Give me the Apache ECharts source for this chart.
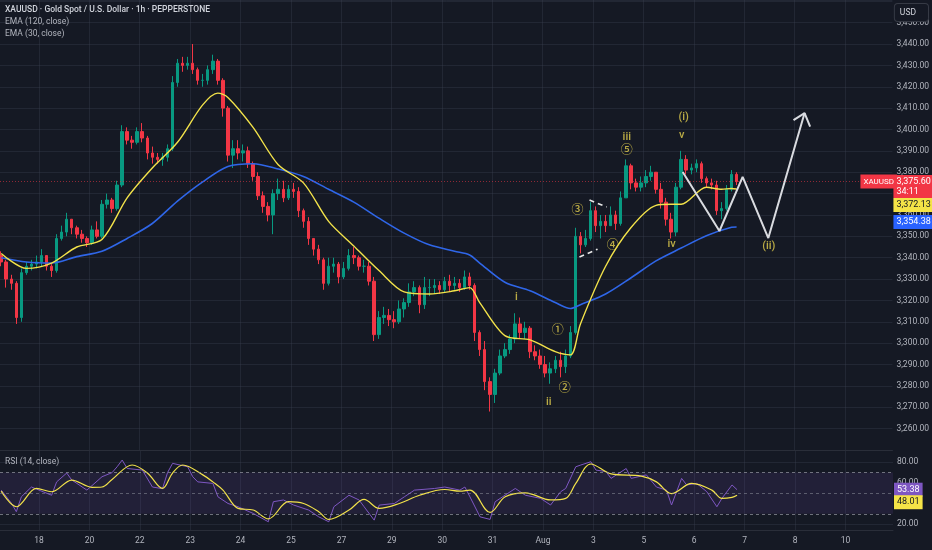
<!DOCTYPE html>
<html><head><meta charset="utf-8">
<script src="https://cdn.jsdelivr.net/npm/echarts@6/dist/echarts.min.js"></script>
<style>html,body{margin:0;padding:0;background:#151924;}#c{width:932px;height:550px;}</style>
</head><body><div id="c"></div>
<script>
// ---- data (x = 2h bar index, 10 bars per trading day) ----
const dayLabels = ['18','20','22','23','24','25','27','29','30','31','Aug','3','5','6','7','8','10'];
const firstOpen = 3341;
const closes = [3338,3330,3328,3312,3333,3336,3337,3338,3341,3336,
3334,3349,3352,3358,3354,3351,3349,3347,3353,3350,
3365,3367,3363,3374,3399,3395,3394,3399,3396,3389,
3387,3386,3387,3391,3422,3431,3430,3431,3428,3423,
3423,3428,3432,3423,3410,3388,3391,3389,3390,3384,
3378,3369,3364,3360,3370,3372,3368,3372,3371,3362,
3357,3349,3344,3339,3328,3336,3337,3331,3335,3341,
3340,3336,3336,3329,3304,3312,3313,3311,3310,3316,
3319,3324,3326,3318,3326,3326,3327,3325,3329,3327,
3328,3326,3331,3327,3305,3297,3282,3276,3286,3294,
3297,3302,3309,3305,3307,3296,3294,3290,3286,3288,
3292,3289,3294,3305,3350,3346,3349,3362,3355,3357,
3355,3360,3356,3368,3383,3375,3373,3375,3378,3380,
3372,3366,3358,3352,3373,3386,3381,3382,3384,3377,
3375,3374,3362,3363,3372,3379,3375.6];
const highs = [3343,3339,3332,3329,3335,3338,3339,3341,3344,3340,
3337,3351,3355,3361,3358,3355,3353,3350,3355,3357,
3367,3370,3368,3376,3402,3401,3397,3401,3403,3397,
3392,3389,3389,3393,3425,3433,3434,3434,3440,3429,
3426,3430,3435,3433,3424,3411,3395,3395,3393,3392,
3385,3380,3371,3366,3372,3377,3376,3374,3375,3373,
3363,3359,3349,3346,3340,3340,3340,3338,3338,3344,
3345,3341,3339,3338,3331,3315,3317,3316,3315,3320,
3321,3328,3329,3327,3331,3330,3330,3329,3331,3332,
3331,3330,3334,3333,3328,3306,3301,3284,3288,3297,
3300,3304,3314,3312,3310,3308,3299,3297,3294,3291,
3294,3296,3297,3308,3354,3352,3353,3366,3364,3360,
3360,3364,3362,3371,3386,3384,3377,3378,3381,3383,
3378,3375,3368,3361,3375,3390,3388,3384,3386,3385,
3378,3377,3376,3366,3374,3381,3380];
const lows = [3336,3326,3325,3309,3310,3332,3334,3335,3336,3334,
3331,3333,3348,3350,3351,3349,3347,3345,3346,3349,
3349,3363,3361,3362,3373,3393,3391,3393,3394,3386,
3384,3384,3383,3385,3390,3420,3427,3428,3426,3421,
3420,3421,3426,3421,3406,3385,3382,3386,3385,3382,
3376,3367,3361,3357,3351,3367,3366,3367,3368,3359,
3354,3346,3341,3337,3325,3327,3333,3328,3330,3334,
3337,3334,3333,3327,3301,3302,3309,3308,3307,3309,
3312,3317,3322,3314,3316,3322,3323,3323,3324,3324,
3325,3324,3325,3325,3301,3294,3278,3268,3272,3285,
3293,3295,3300,3302,3302,3293,3292,3288,3284,3281,
3286,3284,3286,3293,3304,3342,3345,3348,3352,3349,
3352,3355,3353,3355,3368,3372,3371,3371,3373,3376,
3370,3363,3355,3349,3350,3372,3379,3379,3380,3375,
3373,3372,3360,3358,3362,3371,3374];
const ema30 = [[0,3342],[5,3335],[10,3337.5],[15,3345],[20,3348.5],[25,3368],[30,3382],[35,3394],[40,3411.5],[43,3417],[45,3415],[50,3401],[55,3383.5],[60,3375],[65,3357],[70,3345.5],[75,3334],[80,3324],[85,3323],[90,3324.5],[93,3326],[95,3319],[100,3303.5],[105,3301.5],[110,3296],[113,3294.5],[115,3309],[120,3336],[125,3354],[130,3364.5],[133,3365],[135,3365],[140,3373],[143,3372],[145,3372.4],[146,3372.13]];
const ema120 = [[0,3340],[5,3338],[10,3337.5],[15,3340.5],[20,3343],[25,3349],[30,3356],[35,3366.5],[40,3375.5],[45,3382.7],[50,3384],[55,3381.5],[60,3378],[65,3372],[70,3366],[75,3358.5],[80,3351.5],[85,3346],[90,3343],[93,3341.3],[95,3337.5],[100,3328.5],[105,3324.5],[110,3319],[113,3316.2],[115,3318],[120,3323],[125,3330.5],[130,3338.5],[135,3344.5],[140,3350.3],[145,3354.2],[146,3354.38]];
const rsi = [[0,53],[2,40.4],[3,32],[4,46.5],[6,56],[10,48],[11,61],[13,69.6],[14,62.8],[17,53],[20,66],[22,70],[23,75.7],[24,82.2],[25,74],[28,72.5],[30,56],[32,54.4],[33,70],[34,79],[37,75.7],[38,66],[39,61],[42,59.5],[43,46.5],[45,40],[47,36.8],[50,30.3],[53,22.2],[54,41.7],[56,43.4],[58,38.5],[61,33.6],[63,27],[65,22.2],[66,36.8],[69,48],[71,43.4],[72,36.8],[74,23.8],[75,38.4],[78,40],[80,46.5],[82,53],[86,54.6],[88,56],[91,53],[92,56],[93,46.5],[95,27],[97,24.5],[98,41.7],[102,54.6],[104,48],[107,45],[109,38.5],[111,51.4],[112,54.6],[114,75.7],[115,77.4],[117,80.6],[118,72.5],[120,71],[121,64.4],[124,74],[125,64.4],[128,67.8],[130,56],[132,53],[133,38.5],[135,64.4],[136,58],[138,59.5],[140,51.4],[142,36.8],[143,45],[145,58],[146,53.38]];
const rsiMa = [[0,52],[3,36.8],[7,54.6],[10,51.4],[14,62.8],[18,55.7],[20,56],[22,63.4],[26,77.4],[29,69.6],[32,54.6],[34,69.6],[36,77.4],[40,67.8],[42,61],[44,53],[47,35.2],[50,33.6],[53,25],[57,41.7],[60,40],[63,32],[65,24.5],[69,33.6],[72,44],[75,35.2],[79,40],[83,48],[88,53.6],[91,52],[93,53],[97,31.3],[100,46.5],[104,50.4],[109,43.4],[112,45],[114,59.5],[117,78.4],[121,68.7],[127,66.6],[130,61],[133,49.6],[137,59.5],[141,53],[143,45],[145,46],[146,48.01]];
const waveText = ['i','①','②','ii','③','④','⑤','iii','v','(i)','iv','(ii)'];
const waveX = [102.3,110.5,111.9,108.7,114.4,121.4,124.2,124.2,135.1,135.5,133.1,152.4];
const waveY = [3321.6,3305.7,3278.6,3272.5,3361.9,3345.5,3390,3396.5,3397.4,3405.8,3346.4,3345.5];
const projX = [135.3,142.6,147.2,152.3,159.5];
const projY = [3380.1,3352.5,3377.8,3349.2,3407.7];
const arrowX = [157.3,159.5,160.6];
const arrowY = [3404.4,3407.7,3401.3];
const wedgeUpX = [116.8,120.2], wedgeUpY = [3367,3363.7];
const wedgeLoX = [114.8,118.4], wedgeLoY = [3340.3,3344];
const lastPrice = 3375.6, lastEma30 = 3372.13, lastEma120 = 3354.38, lastRsi = 53.38, lastRsiMa = 48.01;

// ---- build ----
const candleData = closes.map((c, i) => [i, i === 0 ? firstOpen : closes[i - 1], c, lows[i], highs[i]]);
const zip = (xs, ys) => xs.map((x, k) => [x, ys[k]]);
const dayTicks = dayLabels.map((_, k) => 7.5 + 10 * k);
const FONT = 'Roboto, "Noto Sans", sans-serif';
const AX = '#b2b5be';
const GRIDC = 'rgba(60,66,84,0.35)';
const fmtPrice = v => v.toLocaleString('en-US', {minimumFractionDigits: 2, maximumFractionDigits: 2});
const XMIN = -0.24, XMAX = 176.94;

function tag(val, text, bg, fg, off, fs) {
  return { yAxis: val, lineStyle: {color: 'rgba(0,0,0,0)', width: 0.01},
    label: { show: true, position: 'end', distance: 1, formatter: text, backgroundColor: bg, color: fg,
      opacity: 1, fontFamily: FONT, fontSize: fs || 9, padding: [2, 3, 1, 3], lineHeight: 11, offset: off || [0, 0] } };
}

const chart = echarts.init(document.getElementById('c'));
chart.setOption({
  backgroundColor: '#151924',
  animation: false,
  textStyle: {fontFamily: FONT},
  grid: [
    {left: 0, right: 39, top: 0, height: 450},
    {left: 0, right: 39, top: 450, height: 80}
  ],
  xAxis: [
    {type: 'value', gridIndex: 0, min: XMIN, max: XMAX,
      axisLabel: {show: false}, axisTick: {show: false, customValues: dayTicks},
      axisLine: {show: true, onZero: false, lineStyle: {color: '#2a2e39'}},
      splitLine: {show: true, lineStyle: {color: GRIDC}}},
    {type: 'value', gridIndex: 1, min: XMIN, max: XMAX,
      axisLabel: {show: true, customValues: dayTicks, color: AX, fontSize: 8.5, margin: 6,
        formatter: v => dayLabels[Math.round((v - 7.5) / 10)] || ''},
      axisTick: {show: false, customValues: dayTicks},
      axisLine: {show: true, onZero: false, lineStyle: {color: '#2a2e39'}},
      splitLine: {show: true, lineStyle: {color: GRIDC}}}
  ],
  yAxis: [
    {type: 'value', gridIndex: 0, position: 'right', min: 3250, max: 3460.6, interval: 10,
      axisLabel: {color: AX, fontSize: 8.5, margin: 4, align: 'left',
        formatter: v => (v < 3255 || v > 3455) ? '' : fmtPrice(v)},
      axisLine: {show: false}, axisTick: {show: false},
      splitLine: {show: true, lineStyle: {color: GRIDC}}},
    {type: 'value', gridIndex: 1, position: 'right', min: 14.2, max: 92,
      axisLabel: {customValues: [20, 40, 60, 80], color: AX, fontSize: 8.5, margin: 4, align: 'left',
        formatter: v => v.toFixed(2)},
      axisLine: {show: false}, axisTick: {show: false, customValues: [20, 80]},
      splitLine: {show: true, lineStyle: {color: GRIDC}}}
  ],
  series: [
    {type: 'candlestick', xAxisIndex: 0, yAxisIndex: 0, data: candleData, barWidth: 3, silent: true,
      itemStyle: {color: '#089981', color0: '#f23645', borderColor: '#089981', borderColor0: '#f23645', borderWidth: 1},
      markLine: {silent: true, symbol: 'none', animation: false,
        data: [
          {yAxis: lastPrice, lineStyle: {color: 'rgba(242,54,69,0.55)', type: [1, 2], width: 1},
            label: {show: true, position: 'end', distance: 1, formatter: fmtPrice(lastPrice) + '\n34:11',
              backgroundColor: '#f23645', color: '#ffffff', fontFamily: FONT, fontSize: 9, lineHeight: 10,
              padding: [2, 3, 1, 3], offset: [0, 5]}},
          tag(lastPrice, 'XAUUSD', '#f23645', '#ffffff', [-33, 0], 8)
        ]}},
    {type: 'line', name: 'EMA120', xAxisIndex: 0, yAxisIndex: 0, data: ema120, showSymbol: false, symbol: 'none',
      smooth: 0.3, silent: true, lineStyle: {color: '#2f66e8', width: 1.6}, z: 3,
      markLine: {silent: true, symbol: 'none', data: [tag(lastEma120, fmtPrice(lastEma120), '#2962ff', '#ffffff', [0, -5])]}},
    {type: 'line', name: 'EMA30', xAxisIndex: 0, yAxisIndex: 0, data: ema30, showSymbol: false, symbol: 'none',
      smooth: 0.3, silent: true, lineStyle: {color: '#f2e24a', width: 1.4}, z: 4,
      markLine: {silent: true, symbol: 'none', data: [tag(lastEma30, fmtPrice(lastEma30), '#f5e447', '#131722', [0, 16])]}},
    {type: 'line', xAxisIndex: 0, yAxisIndex: 0, data: zip(wedgeUpX, wedgeUpY), symbol: 'none', silent: true,
      lineStyle: {color: '#e8e8e8', width: 1.6, type: [5, 4]}, z: 6},
    {type: 'line', xAxisIndex: 0, yAxisIndex: 0, data: zip(wedgeLoX, wedgeLoY), symbol: 'none', silent: true,
      lineStyle: {color: '#e8e8e8', width: 1.6, type: [5, 4]}, z: 6},
    {type: 'line', xAxisIndex: 0, yAxisIndex: 0, data: zip(projX, projY), symbol: 'none', silent: true,
      lineStyle: {color: '#d9dbe0', width: 2}, z: 7},
    {type: 'line', xAxisIndex: 0, yAxisIndex: 0, data: zip(arrowX, arrowY), symbol: 'none', silent: true,
      lineStyle: {color: '#d9dbe0', width: 2}, z: 7},
    {type: 'scatter', xAxisIndex: 0, yAxisIndex: 0, symbolSize: 0, silent: true, z: 8,
      data: waveText.map((t, k) => ({value: [waveX[k], waveY[k]], name: t,
        label: /[①-⑤]/.test(t) ? {fontSize: 12} : {}})),
      label: {show: true, position: 'inside', formatter: p => p.name, color: '#e3d04e',
        fontSize: 11, fontWeight: 500, fontFamily: 'Roboto, "Noto Sans CJK SC", sans-serif'}},
    {type: 'line', name: 'RSI', xAxisIndex: 1, yAxisIndex: 1, data: rsi, symbol: 'none', silent: true,
      lineStyle: {color: '#7e57c2', width: 1}, z: 3,
      markArea: {silent: true, itemStyle: {color: 'rgba(126,87,194,0.13)'}, data: [[{yAxis: 30}, {yAxis: 70}]]},
      markLine: {silent: true, symbol: 'none',
        data: [
          {yAxis: 70, lineStyle: {color: 'rgba(150,153,163,0.7)', type: [3, 3], width: 1}, label: {show: false}},
          {yAxis: 50, lineStyle: {color: 'rgba(150,153,163,0.5)', type: [3, 3], width: 1}, label: {show: false}},
          {yAxis: 30, lineStyle: {color: 'rgba(150,153,163,0.7)', type: [3, 3], width: 1}, label: {show: false}},
          tag(lastRsi, lastRsi.toFixed(2), '#7e57c2', '#ffffff', [0, 0])
        ]}},
    {type: 'line', name: 'RSI MA', xAxisIndex: 1, yAxisIndex: 1, data: rsiMa, symbol: 'none', smooth: 0.35, silent: true,
      lineStyle: {color: '#f2e24a', width: 1.2}, z: 4,
      markLine: {silent: true, symbol: 'none', data: [tag(lastRsiMa, lastRsiMa.toFixed(2), '#f5e447', '#131722', [0, 7])]}}
  ],
  graphic: [
    {type: 'text', left: 5, top: 5, z: 100, style: {text: 'XAUUSD · Gold Spot / U.S. Dollar · 1h · PEPPERSTONE', fill: '#d1d4dc', fontSize: 8.5, fontFamily: FONT, fontWeight: 500}},
    {type: 'text', left: 5, top: 17, z: 100, style: {text: 'EMA (120, close)', fill: '#b2b5be', fontSize: 8.5, fontFamily: FONT}},
    {type: 'text', left: 5, top: 29, z: 100, style: {text: 'EMA (30, close)', fill: '#b2b5be', fontSize: 8.5, fontFamily: FONT}},
    {type: 'text', left: 5, top: 457, z: 100, style: {text: 'RSI (14, close)', fill: '#b2b5be', fontSize: 8.5, fontFamily: FONT}},
    {type: 'text', right: 3, top: 3, z: 100, style: {text: 'USD', fill: '#d1d4dc', fontSize: 8.5, fontFamily: FONT,
      backgroundColor: '#151924', borderColor: '#363a45', borderWidth: 1, borderRadius: 3, padding: [4, 12, 4, 5]}}
  ]
});
</script></body></html>
